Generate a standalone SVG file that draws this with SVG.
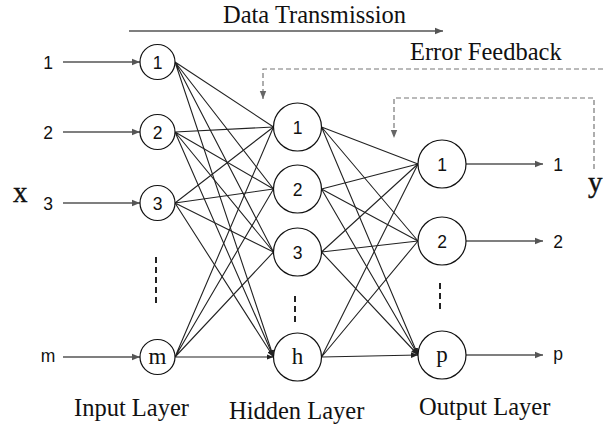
<svg xmlns="http://www.w3.org/2000/svg" width="603" height="426" viewBox="0 0 603 426">
<defs>
<marker id="ah" viewBox="0 0 10 10" refX="10" refY="5" markerWidth="7" markerHeight="7" markerUnits="userSpaceOnUse" orient="auto">
<path d="M0,1 L10,5 L0,9 Z" fill="#222"/>
</marker>
<marker id="ahg" viewBox="0 0 10 10" refX="10" refY="5" markerWidth="8" markerHeight="8" markerUnits="userSpaceOnUse" orient="auto">
<path d="M0,1 L10,5 L0,9 Z" fill="#555"/>
</marker>
<marker id="ahd" viewBox="0 0 10 10" refX="10" refY="5" markerWidth="8" markerHeight="8" markerUnits="userSpaceOnUse" orient="auto">
<path d="M0,1 L10,5 L0,9 Z" fill="#666"/>
</marker>
</defs>
<style>
.node{fill:#fff;stroke:#111;stroke-width:1.2}
.sans{font-family:"Liberation Sans",Arial,sans-serif;font-size:17.5px;fill:#111;text-anchor:middle}
.serif{font-family:"Liberation Serif","Times New Roman",serif;fill:#111}
.lbl{font-size:24.5px}
.nl{font-size:23px;text-anchor:middle}
.big{font-size:29px;stroke:#111;stroke-width:0.4}
.conn{stroke:#222;stroke-width:1.1;fill:none;marker-end:url(#ah)}
.io{stroke:#555;stroke-width:1.3;fill:none;marker-end:url(#ahg)}
.fb{stroke:#777;stroke-width:1.2;fill:none;stroke-dasharray:5,3;marker-end:url(#ahd)}
.dots{stroke:#222;stroke-width:2;stroke-dasharray:6,4;fill:none}
</style>
<rect width="603" height="426" fill="#fff"/>
<g id="connectors">
<path class="conn" d="M175,62 L273.5,127 M175,62 L273.5,189 M175,62 L273.5,252 M175,62 L273.5,357"/>
<path class="conn" d="M175,132 L273.5,127 M175,132 L273.5,189 M175,132 L273.5,252 M175,132 L273.5,357"/>
<path class="conn" d="M175,203 L273.5,127 M175,203 L273.5,189 M175,203 L273.5,252 M175,203 L273.5,357"/>
<path class="conn" d="M175,357 L273.5,127 M175,357 L273.5,189 M175,357 L273.5,252 M175,357 L273.5,357"/>
<path class="conn" d="M321.5,127 L418,164 M321.5,127 L418,241 M321.5,127 L418,355"/>
<path class="conn" d="M321.5,189 L418,164 M321.5,189 L418,241 M321.5,189 L418,355"/>
<path class="conn" d="M321.5,252 L418,164 M321.5,252 L418,241 M321.5,252 L418,355"/>
<path class="conn" d="M321.5,357 L418,164 M321.5,357 L418,241 M321.5,357 L418,355"/>
<line class="io" x1="63" y1="62" x2="140" y2="62"/>
<line class="io" x1="63" y1="132" x2="140" y2="132"/>
<line class="io" x1="63" y1="203" x2="140" y2="203"/>
<line class="io" x1="63" y1="357" x2="140" y2="357"/>
<line class="io" x1="466" y1="164" x2="543" y2="164"/>
<line class="io" x1="466" y1="241" x2="543" y2="241"/>
<line class="io" x1="466" y1="355" x2="543" y2="355"/>
<line class="io" x1="129" y1="31" x2="443" y2="31"/>
<path class="fb" d="M603,69 H263 V99"/>
<path class="fb" d="M594,169 V98 H394 V138"/>
<line class="dots" x1="156" y1="257" x2="156" y2="303"/>
<line class="dots" x1="295" y1="296" x2="295" y2="322"/>
<line class="dots" x1="440" y1="283" x2="440" y2="310"/>
</g>
<g id="in1"><circle class="node" cx="157.5" cy="62" r="17.5"/><text class="sans" x="157.5" y="68.5">1</text></g>
<g id="in2"><circle class="node" cx="157.5" cy="132" r="17.5"/><text class="sans" x="157.5" y="138.5">2</text></g>
<g id="in3"><circle class="node" cx="157.5" cy="203" r="17.5"/><text class="sans" x="157.5" y="209.5">3</text></g>
<g id="inm"><circle class="node" cx="157.5" cy="357" r="17.5"/><text class="serif nl" x="157.5" y="364">m</text></g>
<g id="h1"><circle class="node" cx="297.5" cy="127" r="24"/><text class="sans" x="297.5" y="133.5">1</text></g>
<g id="h2"><circle class="node" cx="297.5" cy="189" r="24"/><text class="sans" x="297.5" y="195.5">2</text></g>
<g id="h3"><circle class="node" cx="297.5" cy="252" r="24"/><text class="sans" x="297.5" y="258.5">3</text></g>
<g id="hh"><circle class="node" cx="297.5" cy="357" r="24"/><text class="serif nl" x="297.5" y="364">h</text></g>
<g id="o1"><circle class="node" cx="442" cy="164" r="24"/><text class="sans" x="442" y="170.5">1</text></g>
<g id="o2"><circle class="node" cx="442" cy="241" r="24"/><text class="sans" x="442" y="247.5">2</text></g>
<g id="op"><circle class="node" cx="442" cy="355" r="24"/><text class="serif nl" x="442" y="362">p</text></g>
<g id="labels">
<text class="sans" x="48" y="68.5">1</text>
<text class="sans" x="48" y="138.5">2</text>
<text class="sans" x="48" y="209.5">3</text>
<text class="sans" x="48" y="362">m</text>
<text class="sans" x="558" y="170.5">1</text>
<text class="sans" x="558" y="247.5">2</text>
<text class="sans" x="558" y="360">p</text>
<text class="serif big" x="13" y="202">x</text>
<text class="serif big" x="588" y="192">y</text>
<text class="serif lbl" x="223" y="23">Data Transmission</text>
<text class="serif lbl" x="410" y="60">Error Feedback</text>
<text class="serif lbl" x="74" y="416">Input Layer</text>
<text class="serif lbl" x="229" y="419">Hidden Layer</text>
<text class="serif lbl" x="419" y="415">Output Layer</text>
</g>
</svg>
